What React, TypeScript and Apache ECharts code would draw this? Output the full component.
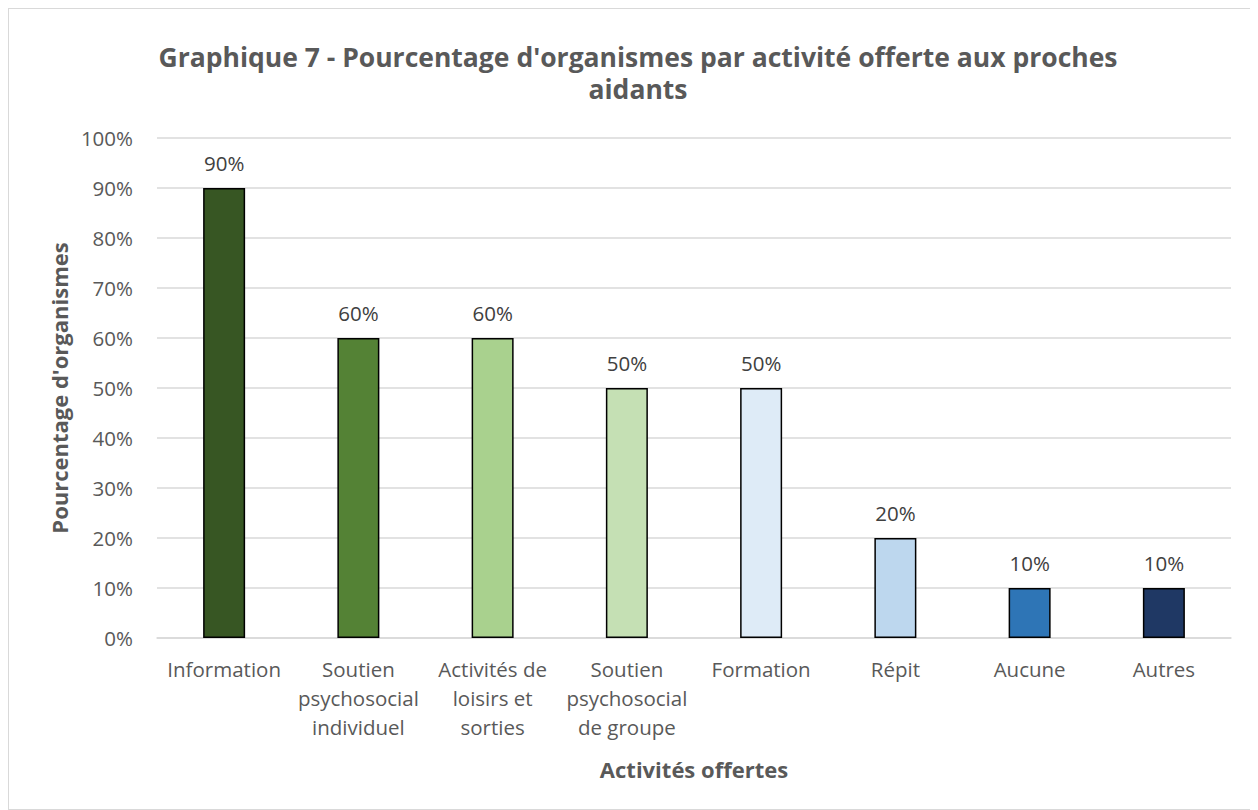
import React, { useEffect, useRef } from "react";
import * as echarts from "echarts";

const categories = [
  "Information",
  "Soutien\npsychosocial\nindividuel",
  "Activités de\nloisirs et\nsorties",
  "Soutien\npsychosocial\nde groupe",
  "Formation",
  "Répit",
  "Aucune",
  "Autres",
];
const values = [90, 60, 60, 50, 50, 20, 10, 10];
const barColors = ["#375623", "#548235", "#A9D18E", "#C5E0B4", "#DEEBF7", "#BDD7EE", "#2E75B6", "#1F3864"];
const titleText = "Graphique 7 - Pourcentage d'organismes par activité offerte aux proches\naidants";

const FONT = "'Open Sans', sans-serif";

export default function App() {
  const ref = useRef<HTMLDivElement>(null);
  useEffect(() => {
    if (!ref.current) return;
    const chart = echarts.init(ref.current, undefined, { renderer: "svg" });
    chart.setOption({
      animation: false,
      backgroundColor: "#ffffff",
      textStyle: { fontFamily: FONT },
      title: {
        text: titleText,
        left: 624,
        top: 27,
        textAlign: "center",
        textStyle: { fontFamily: FONT, fontSize: 26.5, fontWeight: "bold", color: "#595959", lineHeight: 32, align: "center" },
      },
      grid: { left: 148, right: 26, top: 129, bottom: 171, containLabel: false },
      xAxis: {
        type: "category",
        data: categories,
        name: "Activités offertes",
        nameLocation: "middle",
        nameGap: 120,
        nameTextStyle: { fontFamily: FONT, fontSize: 22, fontWeight: "bold", color: "#595959" },
        axisLine: { show: true, lineStyle: { color: "#d9d9d9", width: 1.5 } },
        axisTick: { show: false },
        axisLabel: { color: "#595959", fontSize: 20.5, fontFamily: FONT, margin: 16, lineHeight: 29, interval: 0 },
      },
      yAxis: {
        type: "value",
        min: 0,
        max: 100,
        interval: 10,
        name: "Pourcentage d'organismes",
        nameLocation: "middle",
        nameGap: 86,
        nameTextStyle: { fontFamily: FONT, fontSize: 22, fontWeight: "bold", color: "#595959" },
        axisLine: { show: false },
        axisTick: { show: false },
        axisLabel: { color: "#595959", fontSize: 20.5, fontFamily: FONT, margin: 24, formatter: "{value}%" },
        splitLine: { lineStyle: { color: "#d9d9d9", width: 1.5 } },
      },
      series: [
        {
          type: "bar",
          barWidth: 42,
          data: values.map((v, i) => ({
            value: v,
            itemStyle: { color: barColors[i], borderColor: "#000000", borderWidth: 1.5 },
          })),
          label: {
            show: true,
            position: "top",
            distance: 15,
            formatter: "{c}%",
            color: "#404040",
            fontSize: 20.5,
            fontFamily: FONT,
          },
        },
      ],
    });
    return () => chart.dispose();
  }, []);
  return (
    <div
      style={{
        width: 1250,
        height: 802,
        border: "1px solid #d9d9d9",
        boxSizing: "border-box",
        position: "relative",
      }}
    >
      <div ref={ref} style={{ position: "absolute", left: 0, top: 0, width: 1248, height: 800 }} />
    </div>
  );
}
